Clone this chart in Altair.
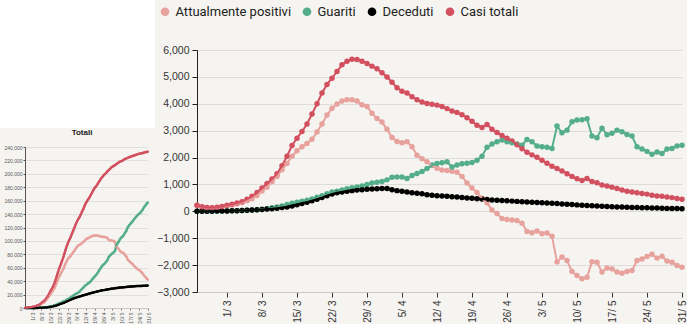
import altair as alt
import pandas as pd

# ---------------- categories ----------------
dates = pd.date_range("2020-02-24", "2020-05-31", freq="D")
date_labels = [f"{d.day}/ {d.month}" for d in dates]
tick_labels = ["1/ 3", "8/ 3", "15/ 3", "22/ 3", "29/ 3", "5/ 4", "12/ 4", "19/ 4",
               "26/ 4", "3/ 5", "10/ 5", "17/ 5", "24/ 5", "31/ 5"]
series_names = ["Attualmente positivi", "Guariti", "Deceduti", "Casi totali"]
series_colors = ["#e8a29d", "#55ae8b", "#000000", "#d2505f"]

# ---------------- main chart: daily variations ----------------
attualmente_positivi = [
    230, 160, 130, 120, 140, 170, 210, 240, 280, 330,
    390, 470, 590, 760, 900, 1100, 1300, 1550, 1780, 2050,
    2250, 2400, 2520, 2680, 2950, 3250, 3580, 3830, 3990, 4100,
    4150, 4150, 4100, 3960, 3900, 3650, 3450, 3320, 3050, 2750,
    2600, 2550, 2590, 2400, 2090, 1960, 1840, 1700, 1600, 1540,
    1520, 1490, 1450, 1300, 1050, 870, 700, 480, 320, 50,
    -80, -270, -300, -320, -340, -440, -750, -800, -730, -830,
    -810, -930, -1880, -1700, -1830, -2240, -2390, -2510, -2450, -1870,
    -1890, -2260, -2110, -2140, -2260, -2300, -2240, -2200, -1830, -1770,
    -1680, -1600, -1740, -1670, -1850, -1890, -2010, -2080]
guariti = [
    0, 0, 0, 5, 10, 10, 15, 20, 25, 30,
    40, 50, 60, 80, 100, 130, 160, 200, 250, 300,
    340, 380, 410, 460, 520, 580, 650, 720, 750, 790,
    840, 880, 910, 940, 1000, 1050, 1080, 1110, 1170, 1270,
    1280, 1280, 1220, 1330, 1410, 1480, 1590, 1720, 1780, 1810,
    1840, 1650, 1720, 1770, 1790, 1820, 1900, 2050, 2380, 2500,
    2590, 2650, 2590, 2550, 2500, 2460, 2670, 2590, 2430, 2400,
    2380, 2340, 3170, 2920, 3020, 3330, 3400, 3410, 3440, 2800,
    2740, 3090, 2850, 2900, 3020, 2960, 2860, 2800, 2400, 2320,
    2230, 2120, 2210, 2150, 2320, 2340, 2430, 2460]
deceduti = [
    0, 2, 4, 6, 8, 10, 14, 18, 24, 30,
    38, 48, 58, 70, 84, 100, 118, 140, 165, 200,
    245, 290, 340, 395, 450, 510, 580, 640, 690, 720,
    750, 770, 790, 800, 820, 830, 840, 850, 850, 800,
    770, 750, 720, 690, 670, 650, 620, 600, 580, 570,
    560, 545, 530, 515, 500, 485, 470, 455, 440, 425,
    410, 400, 390, 380, 370, 360, 350, 340, 330, 320,
    310, 300, 290, 275, 260, 250, 240, 230, 220, 210,
    200, 190, 180, 172, 165, 158, 150, 145, 140, 135,
    130, 125, 120, 115, 110, 107, 104, 100]
casi_totali = [
    230, 170, 140, 130, 150, 180, 230, 260, 310, 360,
    450, 560, 700, 870, 1040, 1200, 1400, 1700, 2050, 2450,
    2720, 2970, 3250, 3620, 4000, 4400, 4720, 4950, 5200, 5450,
    5580, 5660, 5650, 5580, 5500, 5400, 5300, 5150, 5000, 4800,
    4600, 4470, 4400, 4260, 4150, 4070, 4010, 3980, 3950, 3900,
    3820, 3730, 3680, 3590, 3480, 3350, 3200, 3120, 3230, 3050,
    2930, 2820, 2720, 2620, 2480, 2330, 2200, 2100, 2010, 1900,
    1790, 1680, 1590, 1500, 1400, 1300, 1210, 1150, 1220, 1110,
    1060, 980, 940, 900, 850, 790, 750, 720, 690, 660,
    640, 600, 570, 560, 530, 510, 480, 450]

# ---------------- small chart: totals ----------------
tot_attualmente_positivi = [
    221, 311, 385, 588, 821, 1049,
    1577, 1835, 2263, 2706, 3296, 3916, 5061, 6387, 7985, 8514, 10590, 12839, 14955, 17750,
    20603, 23073, 26062, 28710, 33190, 37860, 42681, 46638, 50418, 54030, 57521, 62013,
    66414, 70065, 73880, 75528, 77635,
    80572, 83049, 85388, 88274, 91246, 93187, 94067, 95262, 96877, 98273, 100269, 102253,
    103616, 104291, 105418, 106607, 106962, 107771, 108257, 108237, 107709, 107699, 106848,
    106527, 105847, 106103, 105813, 105205, 104657, 101551,
    100943, 100704, 100179, 99980, 98467, 91528, 89624, 87961, 84842, 83324, 82488, 81266,
    78457, 76440, 72070, 70187, 68351, 66553, 65129, 62752, 60960, 59322, 57752, 56594,
    55300, 52942, 50966, 47986, 46175, 43691, 42075]
tot_guariti = [
    1, 1, 3, 45, 46, 50,
    83, 149, 160, 276, 414, 523, 589, 622, 724, 1004, 1045, 1258, 1439, 1966, 2335, 2749,
    2941, 4025, 4440, 5129, 6072, 7024, 7432, 8326, 9362, 10361, 10950, 12384, 13030,
    14620, 15729,
    16847, 18278, 19758, 20996, 21815, 22837, 24392, 26491, 28470, 30455, 32534, 34211,
    35435, 37130, 38092, 40164, 42727, 44927, 47055, 48877, 51600, 54543, 57576, 60498,
    63120, 64928, 66624, 68941, 71252, 75945,
    78249, 79914, 81654, 82879, 85231, 93245, 96276, 99023, 103031, 105186, 106587, 109039,
    112541, 115288, 120205, 122810, 125176, 127326, 129401, 132282, 134560, 136720, 138840,
    140479, 141981, 144658, 147101, 150604, 152844, 155633, 157507]
tot_deceduti = [
    7, 10, 12, 17, 21, 29,
    34, 52, 79, 107, 148, 197, 233, 366, 463, 631, 827, 1016, 1266, 1441, 1809, 2158,
    2503, 2978, 3405, 4032, 4825, 5476, 6077, 6820, 7503, 8165, 9134, 10023, 10779, 11591,
    12428,
    13155, 13915, 14681, 15362, 15887, 16523, 17127, 17669, 18279, 18849, 19468, 19899,
    20465, 21067, 21645, 22170, 22745, 23227, 23660, 24114, 24648, 25085, 25549, 25969,
    26384, 26644, 26977, 27359, 27682, 27967,
    28236, 28710, 28884, 29079, 29315, 29684, 29958, 30201, 30395, 30560, 30739, 30911,
    31106, 31368, 31610, 31763, 31908, 32007, 32169, 32330, 32486, 32616, 32735, 32785,
    32877, 32955, 33072, 33142, 33229, 33340, 33415]
tot_casi_totali = [
    229, 322, 400, 650, 888, 1128,
    1694, 2036, 2502, 3089, 3858, 4636, 5883, 7375, 9172, 10149, 12462, 15113, 17660, 21157,
    24747, 27980, 31506, 35713, 41035, 47021, 53578, 59138, 63927, 69176, 74386, 80539,
    86498, 92472, 97689, 101739, 105792,
    110574, 115242, 119827, 124632, 128948, 132547, 135586, 139422, 143626, 147577, 152271,
    156363, 159516, 162488, 165155, 168941, 172434, 175925, 178972, 181228, 183957, 187327,
    189973, 192994, 195351, 197675, 199414, 201505, 203591, 205463,
    207428, 209328, 210717, 211938, 213013, 214457, 215858, 217185, 218268, 219070, 219814,
    221216, 222104, 223096, 223885, 224760, 225435, 225886, 226699, 227364, 228006, 228658,
    229327, 229858, 230158, 230555, 231139, 231732, 232248, 232664, 233019]

main_ticks = [-3000, -2000, -1000, 0, 1000, 2000, 3000, 4000, 5000, 6000]
small_ticks = [0, 20000, 40000, 60000, 80000, 100000, 120000, 140000, 160000, 180000,
               200000, 220000, 240000]


def to_long(columns):
    frames = []
    for k, (name, vals) in enumerate(zip(series_names, columns)):
        frames.append(pd.DataFrame({"giorno": date_labels, "serie": name,
                                    "valore": vals, "ordine": k}))
    return pd.concat(frames, ignore_index=True)


main_df = to_long([attualmente_positivi, guariti, deceduti, casi_totali])
tot_df = to_long([tot_attualmente_positivi, tot_guariti, tot_deceduti, tot_casi_totali])

FONT = "Liberation Sans"
BG = "#f6f4f1"
color_scale = alt.Scale(domain=series_names, range=series_colors)

# ---------------- main chart ----------------
x_main = alt.X("giorno:O", sort=date_labels, scale=alt.Scale(type="point", padding=0),
               axis=alt.Axis(values=tick_labels, labelAngle=-90, title=None, grid=False,
                             labelFont=FONT, labelFontSize=10, labelColor="#333",
                             tickColor="#333", tickSize=5, domainColor="#c8c8c8",
                             labelPadding=3))
y_main = alt.Y("valore:Q", scale=alt.Scale(domain=[-3000, 6000], nice=False, zero=False),
               axis=alt.Axis(values=main_ticks, format=",.0f", title=None, grid=True,
                             gridColor="#dedcd8", labelFont=FONT, labelFontSize=10.5,
                             labelColor="#333", tickColor="#222", domainColor="#222",
                             tickSize=5, labelPadding=3))

main_legend = alt.Legend(title=None, orient="none", legendX=-41.5, legendY=-48,
                         direction="horizontal", symbolType="circle",
                         symbolSize=75, symbolStrokeWidth=0, padding=3,
                         labelFont="Roboto", labelFontSize=13,
                         labelColor="#222", columnPadding=9, labelOffset=4)
main_color = alt.Color("serie:N", scale=color_scale, legend=main_legend)

main_points = alt.Chart(main_df).mark_circle(size=30, opacity=1).encode(
    x=x_main, y=y_main, color=main_color)
main_lines = alt.Chart(main_df).mark_line(strokeWidth=2).encode(
    x=x_main, y=y_main, color=main_color)
main = alt.layer(main_points, main_lines).properties(width=485, height=242)

# ---------------- small "Totali" chart ----------------
x_small = alt.X("giorno:O", sort=date_labels, scale=alt.Scale(type="point", padding=0),
                axis=alt.Axis(values=tick_labels, labelAngle=-90, title=None, grid=False,
                              labelFont=FONT, labelFontSize=5, labelColor="#555",
                              tickColor="#777", tickSize=2, domainColor="#c8c8c8",
                              labelPadding=2))
y_small = alt.Y("valore:Q", scale=alt.Scale(domain=[0, 240000], range=[258, 97], nice=False),
                axis=alt.Axis(values=small_ticks, format=",.0f", title=None, grid=True,
                              gridColor="#e2e0dc", labelFont=FONT, labelFontSize=5,
                              labelColor="#555", tickColor="#555", domainColor="#555",
                              tickSize=2, labelPadding=1))

white_block = alt.Chart(pd.DataFrame({"a": [0]})).mark_rect(color="white").encode(
    x=alt.value(-25), x2=alt.value(130), y=alt.value(-50), y2=alt.value(78))
small_title = alt.Chart(pd.DataFrame({"a": [0]})).mark_text(
    text="Totali", font=FONT, fontSize=8, fontWeight="bold", color="#222").encode(
    x=alt.value(57), y=alt.value(83))
small_lines = alt.Chart(tot_df).mark_line(strokeWidth=2.5).encode(
    x=x_small, y=y_small, color=alt.Color("serie:N", scale=color_scale, legend=None))
small_points = alt.Chart(tot_df).mark_circle(size=5, opacity=1).encode(
    x=x_small, y=y_small, color=alt.Color("serie:N", scale=color_scale, legend=None))
small = alt.layer(white_block, small_title, small_lines, small_points).properties(
    width=123, height=258)

chart = alt.hconcat(small, main, spacing=0).resolve_scale(
    color="independent").resolve_legend(color="independent").properties(
    padding=0, background=BG).configure_view(strokeWidth=0)

chart.save("out.html", embed_options={"renderer": "svg", "actions": False})
